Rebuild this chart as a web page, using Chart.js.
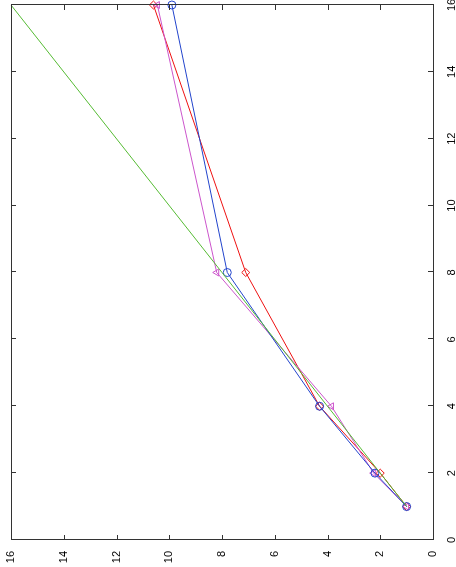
<!DOCTYPE html>
<html>
<head>
<meta charset="utf-8">
<script src="https://cdn.jsdelivr.net/npm/chart.js@4.4.0/dist/chart.umd.min.js"></script>
<style>
  html, body { margin: 0; padding: 0; background: #fff; overflow: hidden; }
  #wrap {
    position: absolute; left: 0; top: 567px;
    width: 567px; height: 456px;
    transform-origin: 0 0; transform: rotate(-90deg);
  }
</style>
</head>
<body>
<div id="wrap"><canvas id="speedupChart" width="567" height="456"></canvas></div>
<script>
// Processor counts and measured speedups (chart is drawn upright, then turned 90deg)
const processors = [1, 2, 4, 8, 16];
const idealSpeedup = [1, 2, 4, 8, 16];
const blueSpeedup = [1, 2.2, 4.3, 7.8, 9.9];
const magentaSpeedup = [1, 2.25, 3.85, 8.2, 10.45];
const redSpeedup = [1, 2.0, 4.3, 7.1, 10.6];
const tickValues = [0, 2, 4, 6, 8, 10, 12, 14, 16];

const toPoints = (ys) => processors.map((p, i) => ({ x: p, y: ys[i] }));

// Box round the plot with inward ticks on all four sides
const boxPlugin = {
    id: 'box',
    afterDraw(chart) {
        const { ctx, chartArea: a, scales } = chart;
        ctx.save();
        ctx.strokeStyle = '#333';
        ctx.lineWidth = 1;
        ctx.strokeRect(a.left + 0.5, a.top + 0.5, a.right - a.left, a.bottom - a.top);
        ctx.beginPath();
        tickValues.forEach(v => {
            const x = Math.round(scales.x.getPixelForValue(v)) + 0.5;
            ctx.moveTo(x, a.bottom); ctx.lineTo(x, a.bottom - 5);
            ctx.moveTo(x, a.top); ctx.lineTo(x, a.top + 5);
            const y = Math.round(scales.y.getPixelForValue(v)) + 0.5;
            ctx.moveTo(a.left, y); ctx.lineTo(a.left + 5, y);
            ctx.moveTo(a.right, y); ctx.lineTo(a.right - 5, y);
        });
        ctx.stroke();
        ctx.restore();
    }
};

const lineSet = (data, color, style) => ({
    data: toPoints(data),
    showLine: true,
    borderColor: color,
    backgroundColor: 'rgba(0,0,0,0)',
    borderWidth: 1,
    pointStyle: style,
    pointRadius: style ? 4 : 0,
    pointBorderColor: color,
    pointBorderWidth: 1,
    clip: false
});

new Chart(document.getElementById('speedupChart').getContext('2d'), {
    type: 'scatter',
    data: {
        datasets: [
            lineSet(idealSpeedup, '#55bb33', false),
            lineSet(blueSpeedup, '#2244cc', 'circle'),
            lineSet(magentaSpeedup, '#cc55cc', 'triangle'),
            lineSet(redSpeedup, '#ee1111', 'rectRot')
        ]
    },
    options: {
        responsive: false,
        animation: false,
        devicePixelRatio: 1,
        layout: { padding: { top: 11, right: 3, left: 0, bottom: 0 } },
        plugins: { legend: { display: false }, tooltip: { enabled: false } },
        scales: {
            x: {
                type: 'linear', min: 0, max: 16,
                afterBuildTicks: (s) => { s.ticks = tickValues.map(v => ({ value: v })); },
                afterFit: (s) => { s.height = 23; s.paddingLeft = 0; s.paddingRight = 0; },
                grid: { display: false },
                border: { display: false },
                ticks: { color: '#000', padding: 4, maxRotation: 0, font: { family: 'Liberation Sans', size: 11 } }
            },
            y: {
                type: 'linear', min: 0, max: 16,
                afterBuildTicks: (s) => { s.ticks = tickValues.map(v => ({ value: v })); },
                afterFit: (s) => { s.width = 27; s.paddingTop = 0; s.paddingBottom = 0; },
                grid: { display: false },
                border: { display: false },
                ticks: { color: '#000', padding: 3, font: { family: 'Liberation Sans', size: 11 } }
            }
        }
    },
    plugins: [boxPlugin]
});
</script>
</body>
</html>
